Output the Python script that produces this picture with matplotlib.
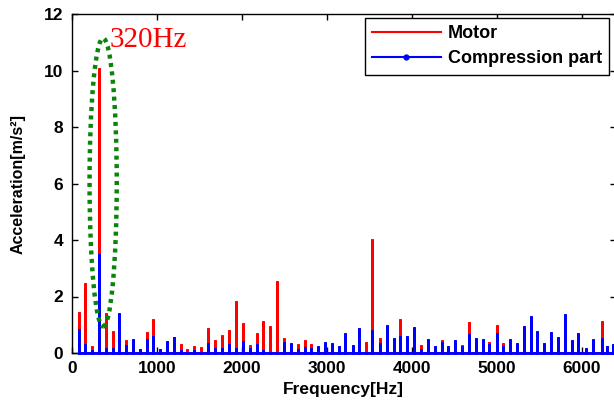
#!/usr/bin/env python3

import numpy as np
import matplotlib
matplotlib.use('Agg')
import matplotlib.pyplot as plt
from matplotlib.patches import Ellipse
from matplotlib.lines import Line2D

# spectrum peaks (Hz, m/s^2)
freqs = [80, 160, 240, 320, 400, 480, 560, 640, 720, 800,
         880, 960, 1040, 1120, 1200, 1280, 1360, 1440, 1520, 1600,
         1685, 1765, 1850, 1930, 2010, 2095, 2175, 2255, 2335, 2420,
         2500, 2580, 2660, 2740, 2820, 2900, 2985, 3060, 3145, 3220,
         3305, 3385, 3460, 3537, 3625, 3705, 3790, 3866, 3948, 4030,
         4105, 4195, 4270, 4353, 4430, 4513, 4590, 4674, 4753, 4839,
         4913, 5000, 5078, 5156, 5242, 5318, 5400, 5478, 5560, 5639,
         5725, 5800, 5886, 5960, 6051, 6129, 6242, 6294, 6365]
motor = [1.44, 2.47, 0.24, 10.1, 1.42, 0.78, 0.10, 0.45, 0.10, 0.14,
         0.74, 1.19, 0.15, 0.05, 0.55, 0.31, 0.15, 0.24, 0.20, 0.87,
         0.46, 0.62, 0.80, 1.83, 1.06, 0.28, 0.70, 1.13, 0.94, 2.54,
         0.52, 0.30, 0.31, 0.46, 0.31, 0.22, 0.10, 0.10, 0.05, 0.05,
         0.25, 0.05, 0.40, 4.05, 0.52, 0.50, 0.50, 1.19, 0.55, 0.10,
         0.30, 0.10, 0.05, 0.46, 0.05, 0.10, 0.30, 1.08, 0.30, 0.05,
         0.40, 0.99, 0.37, 0.05, 0.30, 0.05, 0.05, 0.05, 0.05, 0.05,
         0.15, 0.10, 0.05, 0.05, 0.05, 0.05, 1.12, 0.24, 0.05]
compression = [0.84, 0.32, 0.10, 3.50, 0.18, 0.19, 1.42, 0.30, 0.48, 0.14,
               0.48, 0.60, 0.15, 0.42, 0.58, 0.10, 0.05, 0.10, 0.05, 0.37,
               0.16, 0.17, 0.33, 0.17, 0.42, 0.18, 0.33, 0.12, 0.05, 0.04,
               0.40, 0.35, 0.14, 0.20, 0.17, 0.26, 0.38, 0.35, 0.24, 0.71,
               0.28, 0.87, 0.05, 0.80, 0.35, 0.99, 0.52, 0.60, 0.60, 0.91,
               0.14, 0.48, 0.24, 0.40, 0.24, 0.46, 0.24, 0.67, 0.52, 0.48,
               0.33, 0.70, 0.24, 0.48, 0.35, 0.97, 1.30, 0.77, 0.35, 0.74,
               0.55, 1.38, 0.46, 0.70, 0.17, 0.48, 0.53, 0.24, 0.33]

x_ticks = [0, 1000, 2000, 3000, 4000, 5000, 6000]
y_ticks = [0, 2, 4, 6, 8, 10, 12]


def spikes(f, a):
  # each peak as a thin spike rising from zero
  f = np.asarray(f, dtype=float)
  a = np.asarray(a, dtype=float)
  xs = np.repeat(f, 3)
  ys = np.column_stack([np.zeros_like(a), a, np.zeros_like(a)]).ravel()
  return xs, ys


plt.rcParams['font.family'] = ['Liberation Sans', 'DejaVu Sans']

fig = plt.figure(figsize=(6.14, 4.03), dpi=100)
ax = fig.add_axes([71.7 / 614, 50 / 403, 544 / 614, 339 / 403])

mx, my = spikes(freqs, motor)
cx, cy = spikes(freqs, compression)
ax.plot(mx, my, color='red', lw=2.0, solid_joinstyle='miter', zorder=3)
ax.plot(cx, cy, color='blue', lw=2.0, solid_joinstyle='miter', zorder=3,
        clip_on=False)

ax.add_patch(Ellipse((370, 6.04), 320, 10.2, fill=False, edgecolor='#0a850a',
                     lw=3.2, linestyle=(0, (0.9, 1.0)), zorder=4))
ax.text(450, 10.83, '320Hz', color='red', fontsize=21,
        family=['Liberation Serif', 'DejaVu Serif'], va='baseline', ha='left')

ax.set_xlim(0, 6400)
ax.set_ylim(0, 12)
ax.set_xticks(x_ticks)
ax.set_yticks(y_ticks)
ax.tick_params(direction='in', length=4, width=1, top=True, right=True,
               labelsize=12.5, pad=6)
for lab in ax.get_xticklabels() + ax.get_yticklabels():
  lab.set_fontweight('bold')
for s in ax.spines.values():
  s.set_linewidth(1.0)

ax.set_xlabel('Frequency[Hz]', fontsize=12.5, fontweight='bold', labelpad=4)
ax.set_ylabel('Acceleration[m/s²]', fontsize=11.5, fontweight='bold', labelpad=13)

handles = [Line2D([], [], color='red', lw=1.5),
           Line2D([], [], color='blue', lw=1.5, marker='.', markersize=7)]
leg = ax.legend(handles, ['Motor', 'Compression part'], loc='upper right',
                bbox_to_anchor=(0.988, 0.988), fancybox=False, framealpha=1,
                edgecolor='black', handlelength=3.8, handletextpad=0.4,
                borderpad=0.4, borderaxespad=0.0, labelspacing=0.45,
                prop={'weight': 'bold', 'size': 13})
leg.get_frame().set_linewidth(1.0)

fig.savefig('out.png', dpi=100)
